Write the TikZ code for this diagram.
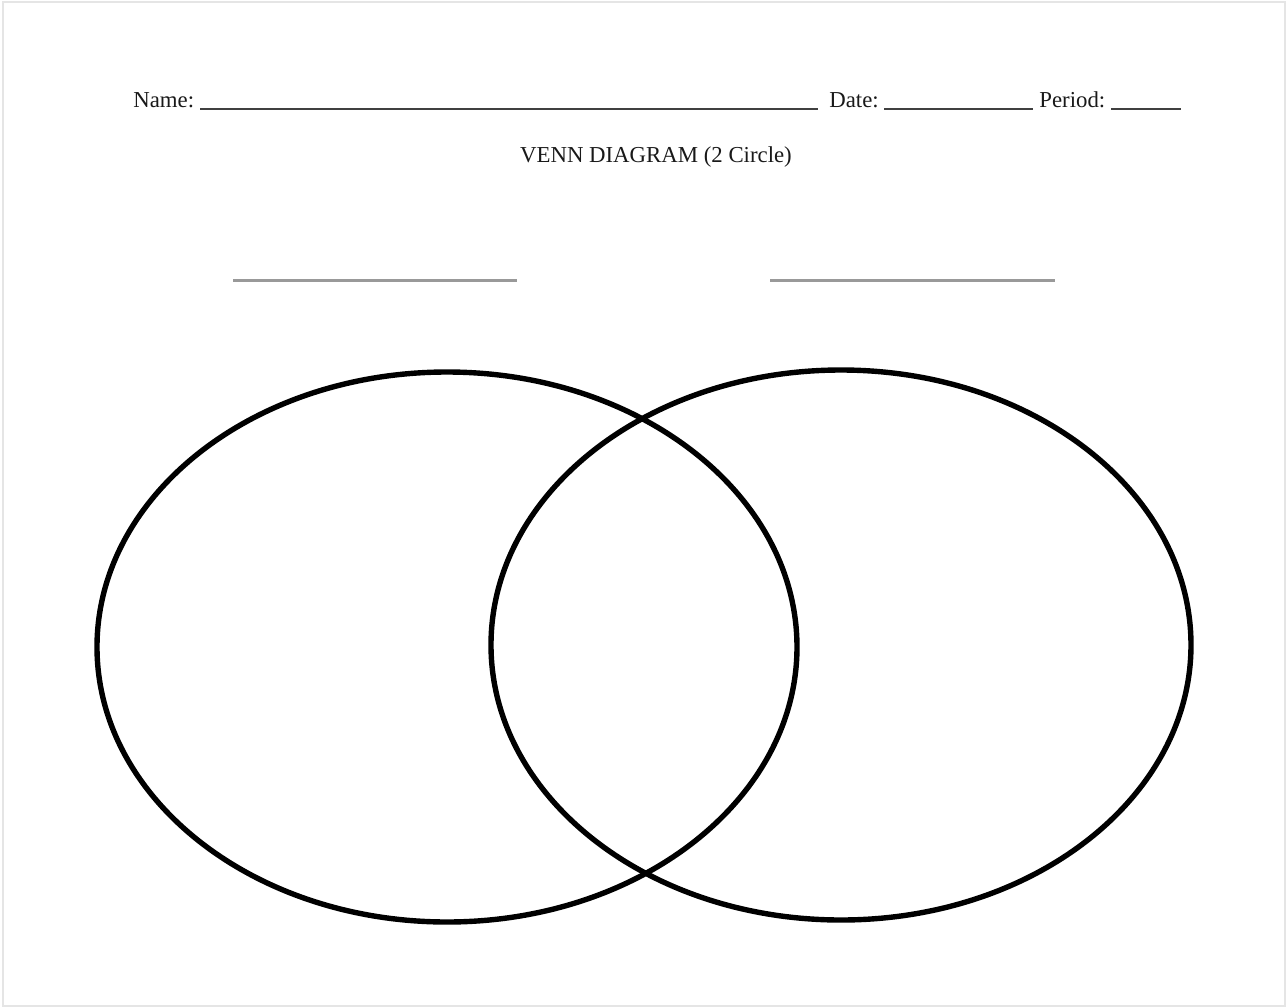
\documentclass[tikz,border=0pt]{standalone}
\usepackage{fontspec}
\setmainfont{Liberation Serif}
\begin{document}
\begin{tikzpicture}[x=0.5pt,y=-0.5pt,
  txt/.style={anchor=base west,inner sep=0pt,font=\fontsize{11.4}{13}\selectfont,text=black!90},
  blank/.style={draw=black!75,line width=0.7pt},
  labelline/.style={draw=black!40,line width=1.5pt},
  venn/.style={draw=black,line width=2.7pt}]
\useasboundingbox (0,0) rectangle (1287,1008);
\draw[black!10,line width=0.8pt] (3,2) rectangle (1285,1006);
% header
\node[txt] (name) at (133,107) {Name:};
\coordinate (n1) at (200,109); \coordinate (n2) at (818,109);
\draw[blank] (n1) -- (n2);
\node[txt] (date) at (829,107) {Date:};
\coordinate (d1) at (884,109); \coordinate (d2) at (1033,109);
\draw[blank] (d1) -- (d2);
\node[txt] (period) at (1039,107) {Period:};
\coordinate (p1) at (1111,109); \coordinate (p2) at (1181,109);
\draw[blank] (p1) -- (p2);
\node[txt,anchor=base] (title) at (656,162) {VENN DIAGRAM (2 Circle)};
% label lines
\coordinate (l1) at (233,280); \coordinate (l2) at (517,280);
\draw[labelline] (l1) -- (l2);
\coordinate (r1) at (770,280); \coordinate (r2) at (1055,280);
\draw[labelline] (r1) -- (r2);
% ellipses
\draw[venn] (447,647) ellipse [x radius=350, y radius=275];
\draw[venn] (841,645) ellipse [x radius=350, y radius=275];
\end{tikzpicture}
\end{document}
